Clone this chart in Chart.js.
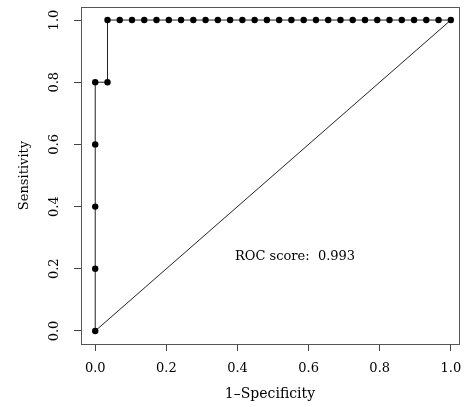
<!DOCTYPE html>
<html lang="en">
<head>
    <meta charset="UTF-8">
    <title>ROC curve</title>
    <script src="https://cdn.jsdelivr.net/npm/chart.js"></script>
    <style>
        body { margin: 0; background: white; }
        canvas { display: block; }
    </style>
</head>
<body>
    <canvas id="rocChart" width="466" height="407"></canvas>
    <script>
        // ROC points: 1-specificity and sensitivity
        const fpr = [0, 0, 0, 0, 0, 0.0345, 0.0345, 0.0690, 0.1034, 0.1379, 0.1724, 0.2069,
                     0.2414, 0.2759, 0.3103, 0.3448, 0.3793, 0.4138, 0.4483, 0.4828, 0.5172,
                     0.5517, 0.5862, 0.6207, 0.6552, 0.6897, 0.7241, 0.7586, 0.7931, 0.8276,
                     0.8621, 0.8966, 0.9310, 0.9655, 1.0];
        const tpr = [0, 0.2, 0.4, 0.6, 0.8, 0.8, 1, 1, 1, 1, 1, 1,
                     1, 1, 1, 1, 1, 1, 1, 1, 1,
                     1, 1, 1, 1, 1, 1, 1, 1, 1,
                     1, 1, 1, 1, 1];
        const diagX = [0, 1];
        const diagY = [0, 1];
        const xTicks = [0, 0.2, 0.4, 0.6, 0.8, 1.0];
        const yTicks = [0, 0.2, 0.4, 0.6, 0.8, 1.0];
        const rocScore = 0.993;

        const serif = 'DejaVu Serif';

        // box round the plot, rotated y tick labels and the score text
        const extras = {
            id: 'extras',
            afterDraw(chart) {
                const ctx = chart.ctx;
                const a = chart.chartArea;
                const xs = chart.scales.x, ys = chart.scales.y;
                ctx.save();
                ctx.strokeStyle = '#555';
                ctx.lineWidth = 1;
                ctx.strokeRect(Math.round(a.left) + 0.5, Math.round(a.top) + 0.5,
                               Math.round(a.width), Math.round(a.height));

                ctx.fillStyle = '#000';
                ctx.font = '13px "' + serif + '"';
                ctx.textAlign = 'center';
                ctx.textBaseline = 'middle';
                for (const t of yTicks) {
                    ctx.save();
                    ctx.translate(55, ys.getPixelForValue(t));
                    ctx.rotate(-Math.PI / 2);
                    ctx.fillText(t.toFixed(1), 0, 0);
                    ctx.restore();
                }

                ctx.fillText('ROC score:  ' + rocScore.toFixed(3),
                             xs.getPixelForValue(0.562), ys.getPixelForValue(0.24));
                ctx.restore();
            }
        };

        new Chart(document.getElementById('rocChart'), {
            type: 'scatter',
            data: {
                datasets: [
                    {
                        data: fpr.map((x, i) => ({ x: x, y: tpr[i] })),
                        showLine: true,
                        borderColor: '#222',
                        borderWidth: 1,
                        pointRadius: 3.2,
                        pointBackgroundColor: '#000',
                        pointBorderColor: '#000',
                        pointBorderWidth: 0
                    },
                    {
                        data: diagX.map((x, i) => ({ x: x, y: diagY[i] })),
                        showLine: true,
                        borderColor: '#222',
                        borderWidth: 1,
                        pointRadius: 0
                    }
                ]
            },
            options: {
                responsive: false,
                animation: false,
                devicePixelRatio: 1,
                layout: { padding: { top: 7, right: 7, left: 0, bottom: 0 } },
                plugins: { legend: { display: false }, tooltip: { enabled: false } },
                scales: {
                    x: {
                        type: 'linear',
                        min: -0.04,
                        max: 1.023,
                        afterBuildTicks: s => { s.ticks = xTicks.map(v => ({ value: v })); },
                        afterFit: s => {
                            s.height = 63;
                            s.paddingLeft = 0;
                            s.paddingRight = 0;
                        },
                        ticks: {
                            callback: v => v.toFixed(1),
                            font: { family: serif, size: 13 },
                            color: '#000',
                            padding: 10,
                            maxRotation: 0,
                            autoSkip: false
                        },
                        grid: { drawOnChartArea: false, drawTicks: true, tickLength: 7, color: '#444' },
                        border: { display: false },
                        title: {
                            display: true,
                            text: '1\u2013Specificity',
                            font: { family: serif, size: 14 },
                            color: '#000',
                            padding: { top: 0, bottom: 4 }
                        }
                    },
                    y: {
                        type: 'linear',
                        min: -0.042,
                        max: 1.042,
                        afterBuildTicks: s => { s.ticks = yTicks.map(v => ({ value: v })); },
                        afterFit: s => { s.width = 81; },
                        ticks: { display: false },
                        grid: { drawOnChartArea: false, drawTicks: true, tickLength: 7, color: '#444' },
                        border: { display: false },
                        title: {
                            display: true,
                            text: 'Sensitivity',
                            font: { family: serif, size: 13 },
                            color: '#000',
                            padding: { top: 17, bottom: 0 }
                        }
                    }
                }
            },
            plugins: [extras]
        });
    </script>
</body>
</html>
